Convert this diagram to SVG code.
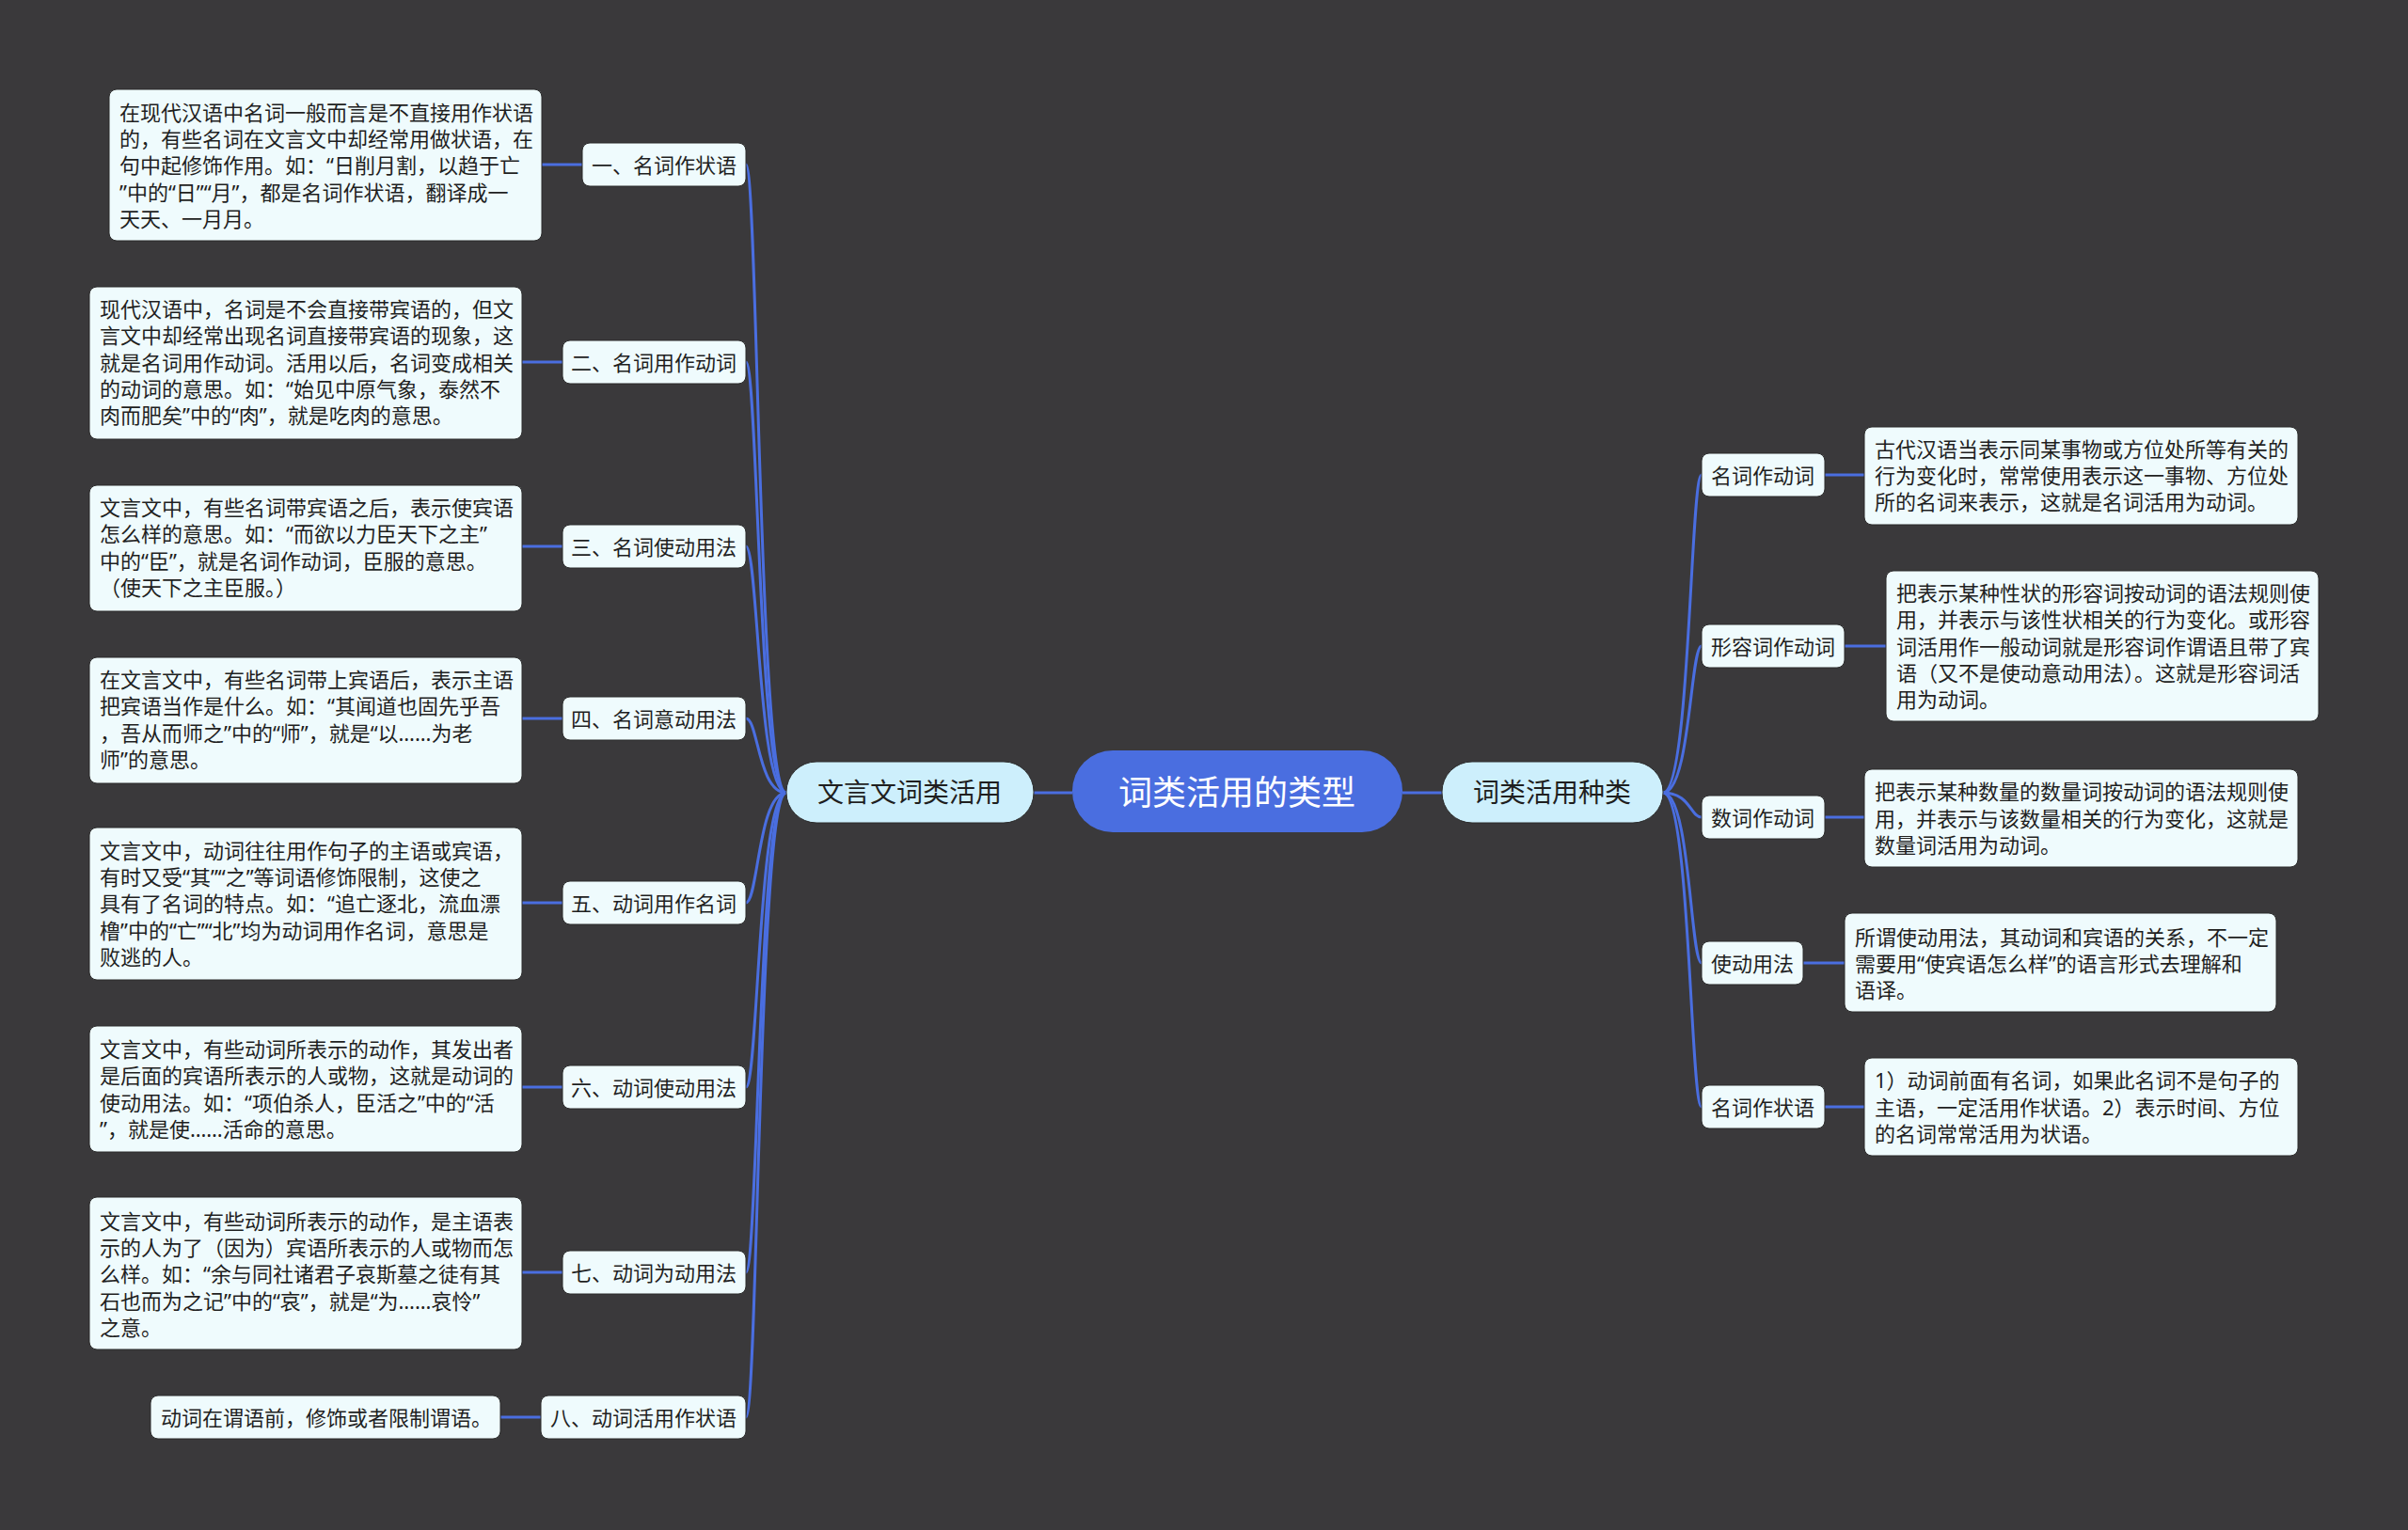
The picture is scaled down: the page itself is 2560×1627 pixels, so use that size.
<svg xmlns="http://www.w3.org/2000/svg" width="2560" height="1627" viewBox="0 0 2560 1627">
<style>
text{font-family:"Noto Sans","Noto Sans CJK SC",sans-serif;fill:#1f1f1f;dominant-baseline:central}
.box{fill:#effbfd;stroke:#2b2b2b;stroke-width:1}
.main{fill:#cdeffc;stroke:#2b2b2b;stroke-width:1}
.d{font-size:22px}
.l{font-size:22px;text-anchor:middle}
.m{font-size:28px;text-anchor:middle}
.c{font-size:36px;text-anchor:middle;fill:#ffffff}
.cn{fill:none;stroke:#4a6ee0;stroke-width:3}
</style>
<rect x="0" y="0" width="2560" height="1627" fill="#3a393b"/>
<g id="connectors">
<line class="cn" x1="1099" y1="843" x2="1140" y2="843"/>
<line class="cn" x1="1491" y1="843" x2="1533" y2="843"/>
<path class="cn" d="M836 843 C806 843 806 175 793 175"/>
<path class="cn" d="M836 843 C806 843 806 385 793 385"/>
<path class="cn" d="M836 843 C806 843 806 581 793 581"/>
<path class="cn" d="M836 843 C806 843 806 764 793 764"/>
<path class="cn" d="M836 843 C806 843 806 960 793 960"/>
<path class="cn" d="M836 843 C806 843 806 1156 793 1156"/>
<path class="cn" d="M836 843 C806 843 806 1353 793 1353"/>
<path class="cn" d="M836 843 C806 843 806 1507 793 1507"/>
<line class="cn" x1="619" y1="175" x2="576" y2="175"/>
<line class="cn" x1="598" y1="385" x2="555" y2="385"/>
<line class="cn" x1="598" y1="581" x2="555" y2="581"/>
<line class="cn" x1="598" y1="764" x2="555" y2="764"/>
<line class="cn" x1="598" y1="960" x2="555" y2="960"/>
<line class="cn" x1="598" y1="1156" x2="555" y2="1156"/>
<line class="cn" x1="598" y1="1353" x2="555" y2="1353"/>
<line class="cn" x1="575" y1="1507" x2="532" y2="1507"/>
<path class="cn" d="M1768 843 C1797 843 1797 505 1809 505"/>
<path class="cn" d="M1768 843 C1797 843 1797 687 1809 687"/>
<path class="cn" d="M1768 843 C1797 843 1797 869 1809 869"/>
<path class="cn" d="M1768 843 C1797 843 1797 1024 1809 1024"/>
<path class="cn" d="M1768 843 C1797 843 1797 1177 1809 1177"/>
<line class="cn" x1="1940" y1="505" x2="1982" y2="505"/>
<line class="cn" x1="1961" y1="687" x2="2005" y2="687"/>
<line class="cn" x1="1940" y1="869" x2="1982" y2="869"/>
<line class="cn" x1="1917" y1="1024" x2="1961" y2="1024"/>
<line class="cn" x1="1940" y1="1177" x2="1982" y2="1177"/>
</g>
<g id="center">
<rect x="1140" y="798" width="351" height="87" rx="43" fill="#4a6ee0"/>
<text class="c" x="1315" y="842">词类活用的类型</text>
</g>
<g id="main-left">
<rect class="main" x="836" y="810" width="263" height="65" rx="32"/>
<text class="m" x="967" y="842">文言文词类活用</text>
</g>
<g id="main-right">
<rect class="main" x="1533" y="810" width="235" height="65" rx="32"/>
<text class="m" x="1650" y="842">词类活用种类</text>
</g>
<g id="l1"><rect class="box" x="619" y="152" width="174" height="46" rx="8"/><text class="l" x="706" y="175">一、名词作状语</text></g>
<g id="l2"><rect class="box" x="598" y="362" width="195" height="46" rx="8"/><text class="l" x="695" y="385">二、名词用作动词</text></g>
<g id="l3"><rect class="box" x="598" y="558" width="195" height="46" rx="8"/><text class="l" x="695" y="581">三、名词使动用法</text></g>
<g id="l4"><rect class="box" x="598" y="741" width="195" height="46" rx="8"/><text class="l" x="695" y="764">四、名词意动用法</text></g>
<g id="l5"><rect class="box" x="598" y="937" width="195" height="46" rx="8"/><text class="l" x="695" y="960">五、动词用作名词</text></g>
<g id="l6"><rect class="box" x="598" y="1133" width="195" height="46" rx="8"/><text class="l" x="695" y="1156">六、动词使动用法</text></g>
<g id="l7"><rect class="box" x="598" y="1330" width="195" height="46" rx="8"/><text class="l" x="695" y="1353">七、动词为动用法</text></g>
<g id="l8"><rect class="box" x="575" y="1484" width="218" height="46" rx="8"/><text class="l" x="684" y="1507">八、动词活用作状语</text></g>
<g id="d1"><rect class="box" x="116" y="95" width="460" height="161" rx="8"/>
<text class="d" x="127" y="119">在现代汉语中名词一般而言是不直接用作状语</text>
<text class="d" x="127" y="147">的，有些名词在文言文中却经常用做状语，在</text>
<text class="d" x="127" y="175">句中起修饰作用。如：“日削月割，以趋于亡</text>
<text class="d" x="127" y="204">”中的“日”“月”，都是名词作状语，翻译成一</text>
<text class="d" x="127" y="232">天天、一月月。</text></g>
<g id="d2"><rect class="box" x="95" y="305" width="460" height="162" rx="8"/>
<text class="d" x="106" y="328">现代汉语中，名词是不会直接带宾语的，但文</text>
<text class="d" x="106" y="356">言文中却经常出现名词直接带宾语的现象，这</text>
<text class="d" x="106" y="385">就是名词用作动词。活用以后，名词变成相关</text>
<text class="d" x="106" y="413">的动词的意思。如：“始见中原气象，泰然不</text>
<text class="d" x="106" y="441">肉而肥矣”中的“肉”，就是吃肉的意思。</text></g>
<g id="d3"><rect class="box" x="95" y="516" width="460" height="134" rx="8"/>
<text class="d" x="106" y="539">文言文中，有些名词带宾语之后，表示使宾语</text>
<text class="d" x="106" y="567">怎么样的意思。如：“而欲以力臣天下之主”</text>
<text class="d" x="106" y="596">中的“臣”，就是名词作动词，臣服的意思。</text>
<text class="d" x="106" y="624">（使天下之主臣服。）</text></g>
<g id="d4"><rect class="box" x="95" y="699" width="460" height="134" rx="8"/>
<text class="d" x="106" y="722">在文言文中，有些名词带上宾语后，表示主语</text>
<text class="d" x="106" y="750">把宾语当作是什么。如：“其闻道也固先乎吾</text>
<text class="d" x="106" y="779">，吾从而师之”中的“师”，就是“以……为老</text>
<text class="d" x="106" y="807">师”的意思。</text></g>
<g id="d5"><rect class="box" x="95" y="880" width="460" height="162" rx="8"/>
<text class="d" x="106" y="904">文言文中，动词往往用作句子的主语或宾语，</text>
<text class="d" x="106" y="932">有时又受“其”“之”等词语修饰限制，这使之</text>
<text class="d" x="106" y="960">具有了名词的特点。如：“追亡逐北，流血漂</text>
<text class="d" x="106" y="989">橹”中的“亡”“北”均为动词用作名词，意思是</text>
<text class="d" x="106" y="1017">败逃的人。</text></g>
<g id="d6"><rect class="box" x="95" y="1091" width="460" height="134" rx="8"/>
<text class="d" x="106" y="1115">文言文中，有些动词所表示的动作，其发出者</text>
<text class="d" x="106" y="1143">是后面的宾语所表示的人或物，这就是动词的</text>
<text class="d" x="106" y="1172">使动用法。如：“项伯杀人，臣活之”中的“活</text>
<text class="d" x="106" y="1200">”，就是使……活命的意思。</text></g>
<g id="d7"><rect class="box" x="95" y="1273" width="460" height="162" rx="8"/>
<text class="d" x="106" y="1298">文言文中，有些动词所表示的动作，是主语表</text>
<text class="d" x="106" y="1326">示的人为了（因为）宾语所表示的人或物而怎</text>
<text class="d" x="106" y="1354">么样。如：“余与同社诸君子哀斯墓之徒有其</text>
<text class="d" x="106" y="1383">石也而为之记”中的“哀”，就是“为……哀怜”</text>
<text class="d" x="106" y="1411">之意。</text></g>
<g id="d8"><rect class="box" x="160" y="1484" width="372" height="46" rx="8"/>
<text class="d" x="171" y="1507">动词在谓语前，修饰或者限制谓语。</text></g>
<g id="r1"><rect class="box" x="1809" y="482" width="131" height="46" rx="8"/><text class="l" x="1874" y="505">名词作动词</text></g>
<g id="r2"><rect class="box" x="1809" y="664" width="152" height="46" rx="8"/><text class="l" x="1885" y="687">形容词作动词</text></g>
<g id="r3"><rect class="box" x="1809" y="846" width="131" height="46" rx="8"/><text class="l" x="1874" y="869">数词作动词</text></g>
<g id="r4"><rect class="box" x="1809" y="1001" width="108" height="46" rx="8"/><text class="l" x="1863" y="1024">使动用法</text></g>
<g id="r5"><rect class="box" x="1809" y="1154" width="131" height="46" rx="8"/><text class="l" x="1874" y="1177">名词作状语</text></g>
<g id="rd1"><rect class="box" x="1982" y="454" width="461" height="104" rx="8"/>
<text class="d" x="1993" y="477">古代汉语当表示同某事物或方位处所等有关的</text>
<text class="d" x="1993" y="505">行为变化时，常常使用表示这一事物、方位处</text>
<text class="d" x="1993" y="533">所的名词来表示，这就是名词活用为动词。</text></g>
<g id="rd2"><rect class="box" x="2005" y="607" width="460" height="160" rx="8"/>
<text class="d" x="2016" y="630">把表示某种性状的形容词按动词的语法规则使</text>
<text class="d" x="2016" y="658">用，并表示与该性状相关的行为变化。或形容</text>
<text class="d" x="2016" y="687">词活用作一般动词就是形容词作谓语且带了宾</text>
<text class="d" x="2016" y="715">语（又不是使动意动用法）。这就是形容词活</text>
<text class="d" x="2016" y="743">用为动词。</text></g>
<g id="rd3"><rect class="box" x="1982" y="818" width="461" height="104" rx="8"/>
<text class="d" x="1993" y="841">把表示某种数量的数量词按动词的语法规则使</text>
<text class="d" x="1993" y="870">用，并表示与该数量相关的行为变化，这就是</text>
<text class="d" x="1993" y="898">数量词活用为动词。</text></g>
<g id="rd4"><rect class="box" x="1961" y="971" width="459" height="105" rx="8"/>
<text class="d" x="1972" y="996">所谓使动用法，其动词和宾语的关系，不一定</text>
<text class="d" x="1972" y="1024">需要用“使宾语怎么样”的语言形式去理解和</text>
<text class="d" x="1972" y="1052">语译。</text></g>
<g id="rd5"><rect class="box" x="1982" y="1125" width="461" height="104" rx="8"/>
<text class="d" x="1993" y="1148">1）动词前面有名词，如果此名词不是句子的</text>
<text class="d" x="1993" y="1177">主语，一定活用作状语。2）表示时间、方位</text>
<text class="d" x="1993" y="1205">的名词常常活用为状语。</text></g>
</svg>
